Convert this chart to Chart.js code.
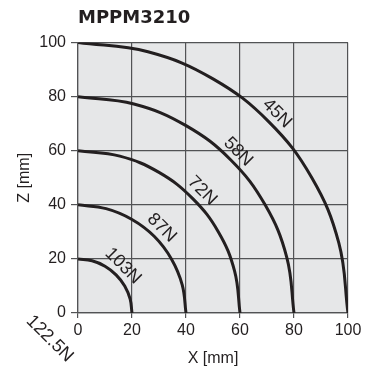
<!DOCTYPE html>
<html>
<head>
<meta charset="utf-8">
<script src="https://cdn.jsdelivr.net/npm/chart.js@4/dist/chart.umd.min.js"></script>
<style>
html, body { margin: 0; padding: 0; background: #fff; }
</style>
</head>
<body>
<canvas id="chart" width="367" height="369"></canvas>
<script>
const chartTitle = "MPPM3210";
const xTitle = "X [mm]";
const zTitle = "Z [mm]";

// quarter arcs (x, z in mm)
const arc20X = [0, 5.2, 10, 14.1, 17.3, 19.3, 20];
const arc20Z = [20, 19.3, 17.3, 14.1, 10, 5.2, 0];
const arc40X = [0, 10.4, 20, 28.3, 34.6, 38.6, 40];
const arc40Z = [40, 38.6, 34.6, 28.3, 20, 10.4, 0];
const arc60X = [0, 15.5, 30, 42.4, 52, 58, 60];
const arc60Z = [60, 58, 52, 42.4, 30, 15.5, 0];
const arc80X = [0, 20.7, 40, 56.6, 69.3, 77.3, 80];
const arc80Z = [80, 77.3, 69.3, 56.6, 40, 20.7, 0];
const arc100X = [0, 25.9, 50, 70.7, 86.6, 96.6, 100];
const arc100Z = [100, 96.6, 86.6, 70.7, 50, 25.9, 0];

// force labels and where they sit (mm)
const forceLabels = ["122.5N", "103N", "87N", "72N", "58N", "45N"];
const forceLabelX = [-10.5, 16.7, 31, 46, 59.3, 73.7];
const forceLabelZ = [-9.5, 17.4, 31.5, 45.2, 59.6, 73.8];

const textColor = "#231f20";
const gridColor = "#525355";

function toPoints(xs, zs) {
    return xs.map((v, i) => ({ x: v, y: zs[i] }));
}

const arcs = [
    [arc20X, arc20Z],
    [arc40X, arc40Z],
    [arc60X, arc60Z],
    [arc80X, arc80Z],
    [arc100X, arc100Z],
];

const datasets = arcs.map(a => ({
    data: toPoints(a[0], a[1]),
    showLine: true,
    pointRadius: 0,
    borderColor: textColor,
    borderWidth: 3,
    tension: 0.4,
    fill: false,
}));

// grey plot background
const plotBackground = {
    id: "plotBackground",
    beforeDraw(chart) {
        const { ctx, chartArea } = chart;
        ctx.save();
        ctx.fillStyle = "#e6e7e8";
        ctx.fillRect(chartArea.left, chartArea.top, chartArea.right - chartArea.left, chartArea.bottom - chartArea.top);
        ctx.restore();
    }
};

// rotated force labels along the arcs
const forceLabelPlugin = {
    id: "forceLabels",
    afterDatasetsDraw(chart) {
        const { ctx } = chart;
        const x = chart.scales.x;
        const y = chart.scales.y;
        ctx.save();
        ctx.font = '18px "Liberation Sans", Arial, sans-serif';
        ctx.fillStyle = textColor;
        ctx.textAlign = "center";
        ctx.textBaseline = "middle";
        forceLabels.forEach((t, i) => {
            ctx.save();
            ctx.translate(x.getPixelForValue(forceLabelX[i]), y.getPixelForValue(forceLabelZ[i]));
            ctx.rotate(Math.PI / 4);
            ctx.fillText(t, 0, 0);
            ctx.restore();
        });
        ctx.restore();
    }
};

const tickFont = { family: '"Liberation Sans", Arial, sans-serif', size: 16 };

new Chart(document.getElementById("chart").getContext("2d"), {
    type: "scatter",
    data: { datasets: datasets },
    options: {
        responsive: false,
        animation: false,
        layout: { padding: { left: 0, right: 19, top: 0, bottom: 0 } },
        plugins: {
            legend: { display: false },
            tooltip: { enabled: false },
            title: {
                display: true,
                text: chartTitle,
                align: "start",
                fullSize: false,
                color: textColor,
                font: { family: '"DejaVu Sans", sans-serif', weight: "bold", size: 18 },
                padding: { top: 8, bottom: 13 },
            },
        },
        scales: {
            x: {
                type: "linear",
                min: 0,
                max: 100,
                afterFit(scale) { scale.height = 56; },
                ticks: { stepSize: 20, color: textColor, font: tickFont, padding: 3 },
                grid: { color: gridColor, lineWidth: 1.2, tickLength: 5, tickColor: gridColor },
                border: { color: gridColor, width: 1.2 },
                title: { display: true, text: xTitle, color: textColor, font: tickFont, padding: { top: 0, bottom: 1 } },
            },
            y: {
                type: "linear",
                min: 0,
                max: 100,
                afterFit(scale) { scale.width = 78; },
                ticks: { stepSize: 20, color: textColor, font: tickFont, padding: 5 },
                grid: { color: gridColor, lineWidth: 1.2, tickLength: 7, tickColor: gridColor },
                border: { color: gridColor, width: 1.2 },
                title: { display: true, text: zTitle, color: textColor, font: tickFont, padding: { top: 15, bottom: 0 } },
            },
        },
    },
    plugins: [plotBackground, forceLabelPlugin],
});
</script>
</body>
</html>
